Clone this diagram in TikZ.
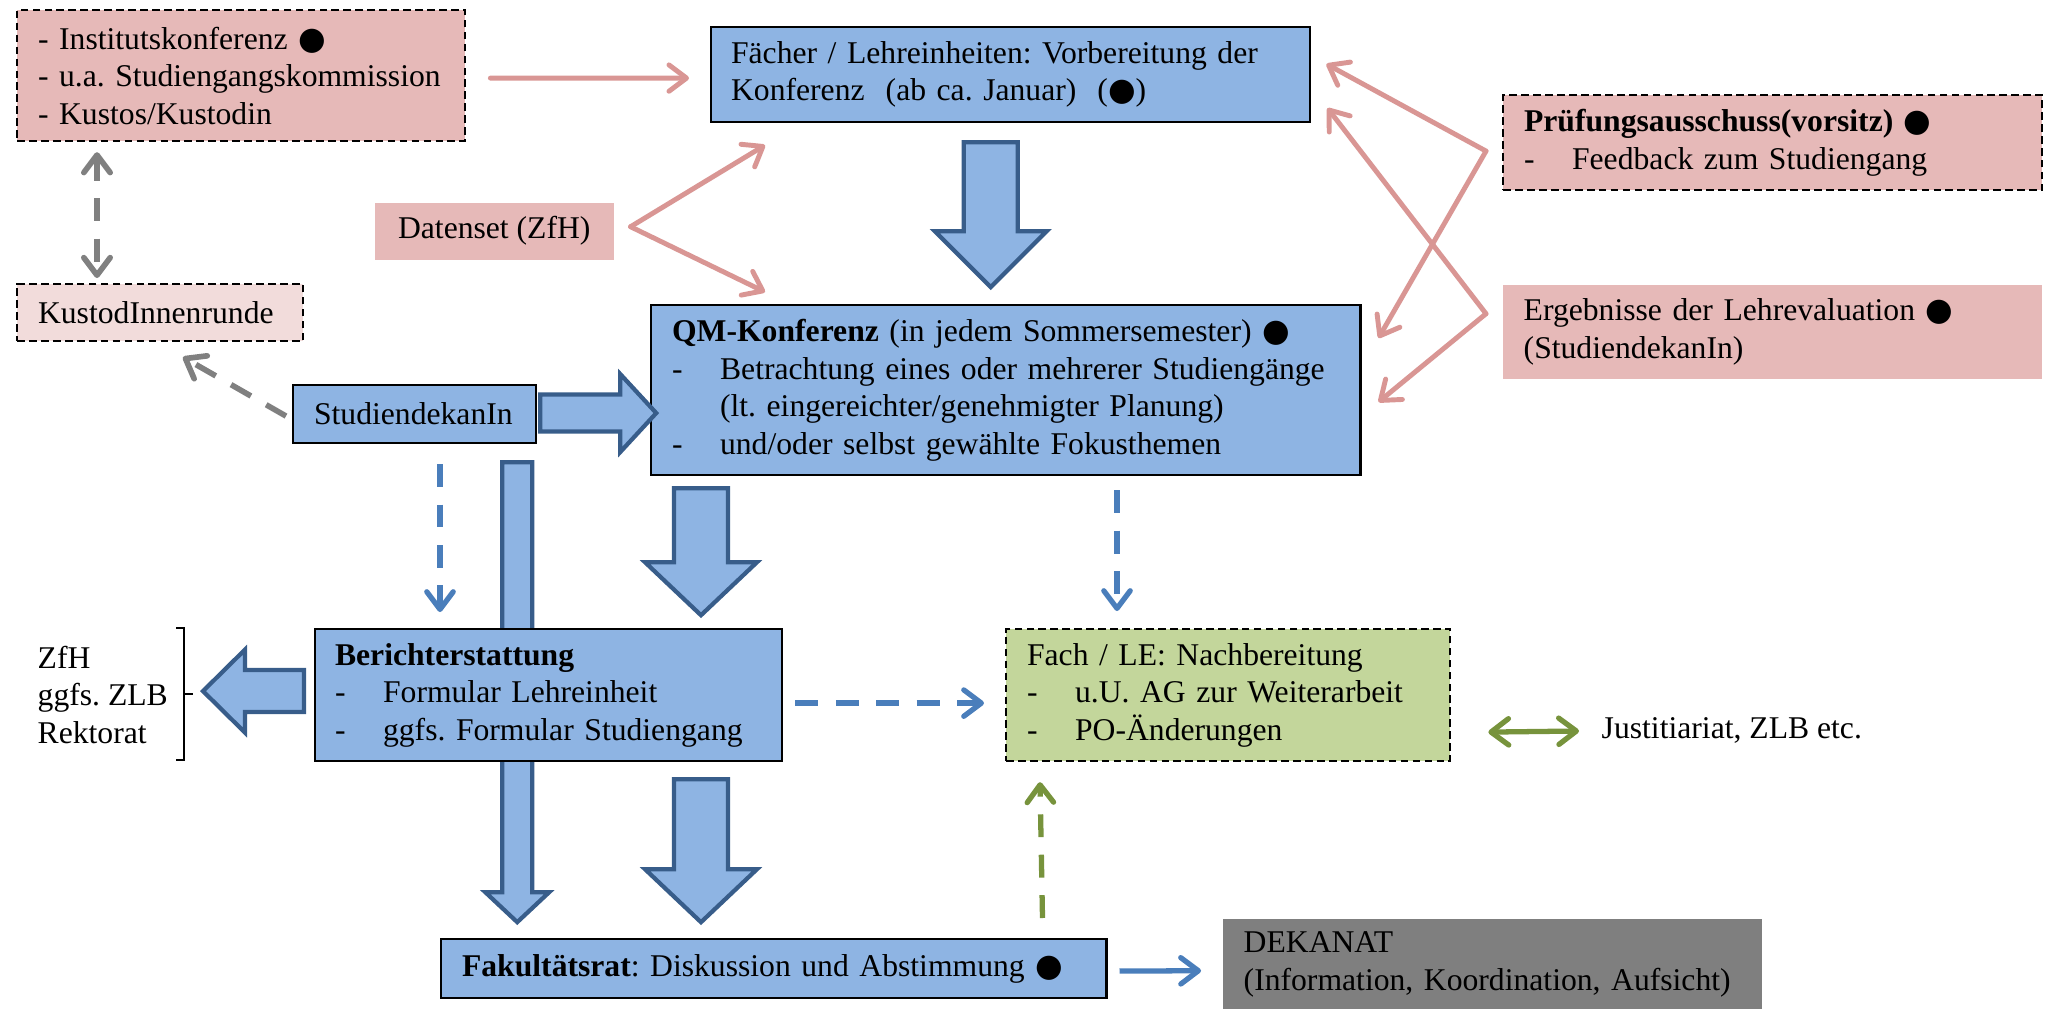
\documentclass[tikz,border=0pt]{standalone}
\usepackage{fontspec}
\setmainfont{Liberation Serif}
\newfontfamily\symfont{DejaVu Sans}
\usetikzlibrary{arrows.meta,calc}
\frenchspacing

\definecolor{boxblue}{HTML}{8EB4E3}
\definecolor{blkline}{HTML}{385D8A}
\definecolor{pinkbox}{HTML}{E6B9B8}
\definecolor{pinklight}{HTML}{F2DCDB}
\definecolor{greenbox}{HTML}{C3D69B}
\definecolor{dekagray}{HTML}{7F7F7F}
\definecolor{pinkline}{HTML}{D99694}
\definecolor{dashblue}{HTML}{4A7EBB}
\definecolor{greenline}{HTML}{77933C}
\definecolor{grayline}{HTML}{808080}

\newcommand{\dotmark}{{\symfont ●}}
\newcommand{\dashitem}{\makebox[0.48cm][l]{-}}
% block arrows: start, shaft half width, head half width, shaft length, head length
\newcommand{\blkdown}[5]{\filldraw[blockarrow] #1 ++(-#2,0) -- ++(2*#2,0) -- ++(0,#4) -- ++(#3-#2,0) -- ++(-#3,#5) -- ++(-#3,-#5) -- ++(#3-#2,0) -- cycle;}
\newcommand{\blkright}[5]{\filldraw[blockarrow] #1 ++(0,-#2) -- ++(#4,0) -- ++(0,#2-#3) -- ++(#5,#3) -- ++(-#5,#3) -- ++(0,#2-#3) -- ++(-#4,0) -- cycle;}
\newcommand{\blkleft}[5]{\filldraw[blockarrow] #1 ++(0,-#2) -- ++(-#4,0) -- ++(0,#2-#3) -- ++(-#5,#3) -- ++(#5,#3) -- ++(0,#2-#3) -- ++(#4,0) -- cycle;}

\begin{document}
\begin{tikzpicture}[x=0.01cm,y=-0.01cm,
  >={Straight Barb[length=5pt,width=7.5pt,round]},
  txt/.style={inner sep=0pt,align=left,font=\fontsize{9}{10.67}\selectfont},
  box/.style={txt,anchor=north west,execute at begin node={\leftskip=0.21cm\hyphenpenalty=10000}},
  boxw/.style={minimum width=#1,text width=#1},
  solidbox/.style={box,draw=black,line width=0.6pt,fill=boxblue},
  dashbox/.style={box,draw=black,line width=0.6pt,dash pattern=on 2.2pt off 1.2pt},
  blockarrow/.style={fill=boxblue,draw=blkline,line width=1.2pt},
  pinkarrow/.style={draw=pinkline,line width=1.4pt,line cap=round,->},
  graydash/.style={draw=grayline,line width=1.6pt,dash pattern=on 6.5pt off 5pt,->},
  bluedash/.style={draw=dashblue,line width=1.5pt,dash pattern=on 6.5pt off 5pt,->},
  greendash/.style={draw=greenline,line width=1.5pt,dash pattern=on 6.5pt off 5pt,->}]
      \useasboundingbox (0,0) rectangle (2045,1009);

      % Boxes
      \node[dashbox,fill=pinkbox,boxw=4.48cm,minimum height=1.31cm] (inst) at (16,9)
        {- Institutskonferenz \dotmark\\- u.a. Studiengangskommission\\- Kustos/Kustodin};
      \node[dashbox,fill=pinklight,boxw=2.86cm,minimum height=0.57cm] (kust) at (16,283)
        {KustodInnenrunde};
      \node[txt,anchor=north west,fill=pinkbox,minimum width=2.39cm,minimum height=0.57cm,align=center] (daten) at (374,202)
        {Datenset (ZfH)};
      \node[solidbox,boxw=5.99cm,minimum height=0.95cm,execute at begin node={\leftskip=0.2cm}] (faech) at (710,26)
        {Fächer / Lehreinheiten: Vorbereitung der\\Konferenz~~(ab ca. Januar)~~(\dotmark)};
      \node[solidbox,boxw=7.09cm,minimum height=1.70cm] (qm) at (650,304)
        {\textbf{QM-Konferenz} (in jedem Sommersemester) \dotmark\\
         \dashitem Betrachtung eines oder mehrerer Studiengänge\\
         \hspace*{0.48cm}(lt. eingereichter/genehmigter Planung)\\
         \dashitem und/oder selbst gewählte Fokusthemen};
      \node[dashbox,fill=pinkbox,boxw=5.39cm,minimum height=0.95cm] (prue) at (1502,94)
        {\textbf{Prüfungsausschuss(vorsitz)} \dotmark\\\dashitem Feedback zum Studiengang};
      \node[box,fill=pinkbox,boxw=5.39cm,minimum height=0.94cm] (erg) at (1502,284)
        {Ergebnisse der Lehrevaluation \dotmark\\(StudiendekanIn)};
      \node[solidbox,boxw=2.43cm,minimum height=0.58cm] (stud) at (292,384)
        {StudiendekanIn};

      % Block arrows
      \blkdown{($(stud.south east)+(-20,18)$)}{15}{32}{430}{30}
      \blkright{($(stud.east)+(3,-1)$)}{18.5}{39}{80}{36}
      \blkdown{($(faech.south)+(-20,19)$)}{27}{56}{89}{56}
      \blkdown{($(qm.south west)+(51,12)$)}{27}{56}{74}{53}

      \node[solidbox,boxw=4.67cm,minimum height=1.32cm,execute at begin node={\leftskip=0.2cm}] (bericht) at (314,628)
        {\textbf{Berichterstattung}\\\dashitem Formular Lehreinheit\\\dashitem ggfs. Formular Studiengang};
      \node[dashbox,fill=greenbox,boxw=4.44cm,minimum height=1.32cm] (fach) at (1005,628)
        {Fach / LE: Nachbereitung\\\dashitem u.U. AG zur Weiterarbeit\\\dashitem PO-Änderungen};
      \node[solidbox,boxw=6.65cm,minimum height=0.59cm] (fak) at (440,938)
        {\textbf{Fakultätsrat}: Diskussion und Abstimmung \dotmark};
      \node[box,fill=dekagray,boxw=5.39cm,minimum height=0.91cm] (dekanat) at (1222,918)
        {DEKANAT\\(Information, Koordination, Aufsicht)};
      \node[txt,anchor=west] (zfh) at (37,695) {ZfH\\ggfs. ZLB\\Rektorat};
      \node[txt,anchor=west] (just) at (1601,730) {Justitiariat, ZLB etc.};

      \blkdown{($(bericht.south west)+(387,17)$)}{27}{56}{90}{53}
      \blkleft{($(bericht.west)+(-10,-4)$)}{21}{41.5}{59}{42}

      % Bracket
      \draw[line width=0.6pt] (176,628) -- (184,628) -- (184,760) -- (176,760) (184,694) -- (193,694);

      % Pink arrows
      \coordinate (dapex) at ($(daten.east)+(16,-4.5)$);
      \coordinate (papex) at ($(prue.west)+(-16,8.5)$);
      \coordinate (eapex) at ($(erg.west)+(-16,-18)$);
      \draw[pinkarrow] ($(inst.east)+(24,2.5)$) -- ($(faech.west)+(-21,3.5)$);
      \draw[pinkarrow] (dapex) -- ($(faech.south west)+(55,22)$);
      \draw[pinkarrow] (dapex) -- ($(qm.north west)+(115,-12)$);
      \draw[pinkarrow] (papex) -- ($(faech.east)+(15,-10.5)$);
      \draw[pinkarrow] (papex) -- ($(qm.north east)+(17,34)$);
      \draw[pinkarrow] (eapex) -- ($(faech.east)+(16,33.5)$);
      \draw[pinkarrow] (eapex) -- ($(qm.north east)+(17,98)$);

      % Dashed arrows
      \draw[graydash,<->] ($(inst.south west)+(81,10)$) -- ($(kust.north west)+(81,-5)$);
      \draw[graydash] ($(stud.west)+(-6,2)$) -- ($(kust.south west)+(167,15)$);
      \draw[bluedash] ($(stud.south west)+(148,20)$) -- ($(bericht.north west)+(126,-16)$);
      \draw[bluedash] ($(qm.south west)+(467,14)$) -- ($(fach.north west)+(112,-17)$);
      \draw[bluedash] ($(bericht.east)+(12,8)$) -- ($(fach.west)+(-21,8)$);
      \draw[greendash] ($(fak.north east)+(-65,-20)$) -- ($(fach.south west)+(35,20)$);

      % Solid arrows
      \draw[greenline,line width=1.5pt,<->] ($(fach.east)+(37,37)$) -- ($(just.west)+(-22,1)$);
      \draw[dashblue,line width=1.5pt,->] ($(fak.east)+(12,2.5)$) -- ($(dekanat.west)+(-21,6.5)$);
\end{tikzpicture}
\end{document}
